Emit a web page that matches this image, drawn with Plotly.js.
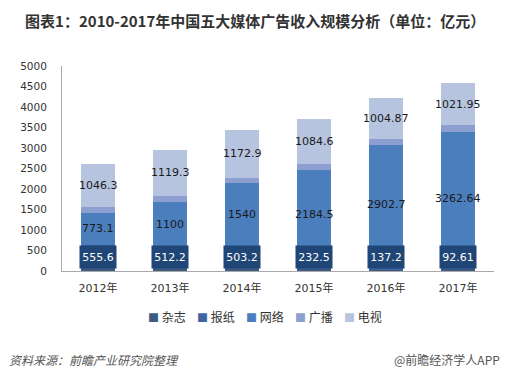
<!DOCTYPE html>
<html><head><meta charset="utf-8">
<script src="https://cdn.plot.ly/plotly-3.0.1.min.js"></script>
<style>body{margin:0;background:#fff}#chart{width:512px;height:379px}</style>
</head><body><div id="chart"></div>
<script>
// ---- data ----
const years = ['2012年','2013年','2014年','2015年','2016年','2017年'];
const seriesNames = ['杂志','报纸','网络','广播','电视'];
const magazine  = [90, 80, 95, 45, 35, 40];
const newspaper = [555.6, 512.2, 503.2, 232.5, 137.2, 92.61];
const internet  = [773.1, 1100, 1540, 2184.5, 2902.7, 3262.64];
const radio     = [145, 140, 137, 160, 146, 160];
const tv        = [1046.3, 1119.3, 1172.9, 1084.6, 1004.87, 1021.95];
const newspaperLabels = ['555.6','512.2','503.2','232.5','137.2','92.61'];
const internetLabels  = ['773.1','1100','1540','2184.5','2902.7','3262.64'];
const tvLabels        = ['1046.3','1119.3','1172.9','1084.6','1004.87','1021.95'];
const yTickVals = [0,500,1000,1500,2000,2500,3000,3500,4000,4500,5000];

// ---- styles ----
const colors = ['#3d5a80','#3f64a0','#4a7ebc','#8c9fd0','#b7c4e0'];
const boxColor = '#1f4676';
const numFont = 'DejaVu Sans, Noto Sans CJK SC, sans-serif';
const cjkFont = 'Noto Sans CJK SC, DejaVu Sans, sans-serif';

const values = [magazine, newspaper, internet, radio, tv];
const traces = values.map((v, i) => ({
  type: 'bar', name: seriesNames[i], x: years, y: v,
  marker: {color: colors[i]}, hoverinfo: 'none', showlegend: false
}));

const annotations = [];
years.forEach((yr, k) => {
  annotations.push({
    x: yr, y: 340, xref: 'x', yref: 'y', text: newspaperLabels[k], showarrow: false,
    font: {family: numFont, size: 11, color: '#ffffff'},
    bgcolor: boxColor, width: 34, height: 20, borderpad: 1
  });
  const base = magazine[k] + newspaper[k];
  annotations.push({
    x: yr, y: base + internet[k] / 2, xref: 'x', yref: 'y', text: internetLabels[k],
    showarrow: false, font: {family: numFont, size: 11, color: '#1a1a1a'}
  });
  const base2 = base + internet[k] + radio[k];
  annotations.push({
    x: yr, y: base2 + tv[k] / 2, xref: 'x', yref: 'y', text: tvLabels[k],
    showarrow: false, font: {family: numFont, size: 11, color: '#1a1a1a'}
  });
});

// legend drawn as text items
const legendStart = (146 - 62) / 432, legendStep = 49 / 432;
seriesNames.forEach((n, i) => {
  annotations.push({
    xref: 'paper', yref: 'paper', x: legendStart + i * legendStep, y: -0.224,
    xanchor: 'left', yanchor: 'middle', showarrow: false,
    text: '<span style="color:' + colors[i] + ';font-size:11px">■</span> ' + n,
    font: {family: cjkFont, size: 12, color: '#333333'}
  });
});

// footer
annotations.push({
  xref: 'paper', yref: 'paper', x: (7 - 62) / 432, y: -0.434, xanchor: 'left', yanchor: 'middle',
  showarrow: false, text: '<i>资料来源：前瞻产业研究院整理</i>',
  font: {family: cjkFont, size: 12, color: '#555555'}
});
annotations.push({
  xref: 'paper', yref: 'paper', x: (502 - 62) / 432, y: -0.434, xanchor: 'right', yanchor: 'middle',
  showarrow: false, text: '@前瞻经济学人APP',
  font: {family: cjkFont, size: 12, color: '#555555'}
});

const layout = {
  width: 512, height: 379,
  margin: {l: 62, r: 18, t: 66, b: 108},
  paper_bgcolor: '#ffffff', plot_bgcolor: '#ffffff',
  barmode: 'stack', bargap: 0.53,
  title: {
    text: '<b>图表1：2010-2017年中国五大媒体广告收入规模分析（单位：亿元）</b>',
    xref: 'container', yref: 'container', x: 0.049, xanchor: 'left', y: 0.942, yanchor: 'middle',
    font: {family: cjkFont, size: 15, color: '#333333'}
  },
  xaxis: {
    type: 'category', showline: true, linecolor: '#aaaaaa', linewidth: 1,
    ticks: '', showgrid: false, zeroline: false,
    tickfont: {family: numFont, size: 11, color: '#333333'}, ticklabelstandoff: 7
  },
  yaxis: {
    range: [0, 5000], tickvals: yTickVals, showline: true, linecolor: '#aaaaaa', linewidth: 1,
    ticks: '', showgrid: false, zeroline: false,
    tickfont: {family: numFont, size: 10.5, color: '#333333'}, ticklabelstandoff: 12
  },
  annotations: annotations,
  showlegend: false
};

Plotly.newPlot('chart', traces, layout, {displayModeBar: false, staticPlot: true});
</script>
</body></html>
